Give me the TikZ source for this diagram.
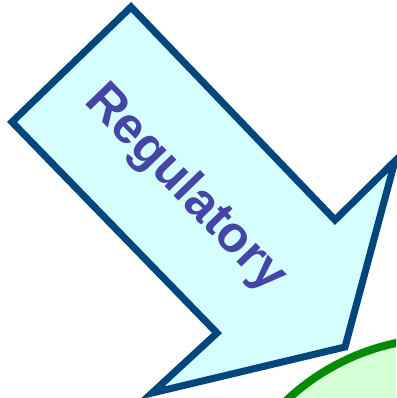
\documentclass[tikz,border=0pt]{standalone}
\usepackage{fontspec}
\setmainfont{Liberation Sans}
\usepackage{tikz}
\definecolor{arrowfill}{RGB}{213, 255, 255}
\definecolor{arrowline}{RGB}{0, 70, 127}
\definecolor{labelblue}{RGB}{68, 68, 170}
\definecolor{cellline}{RGB}{0, 140, 0}
\definecolor{cellfill}{RGB}{213, 255, 213}

\begin{document}
\begin{tikzpicture}[x=0.02cm, y=-0.02cm]
\useasboundingbox (0,0) rectangle (396,398);
\begin{scope}
\clip (0,0) rectangle (396,398);
\filldraw[cellline, fill=cellfill, line width=4.5] (444,568) circle (230);
\end{scope}
\filldraw[arrowline, fill=arrowfill, line width=4, line join=miter]
  (12,122) -- (131,7) -- (335,220) -- (395,161) -- (345,347)
  -- (152,393) -- (217,333) -- cycle;
\node[labelblue, rotate=-46, font=\bfseries\fontsize{29}{33}\selectfont] (regulatory) at (185,189) {Regulatory};
\end{tikzpicture}
\end{document}
